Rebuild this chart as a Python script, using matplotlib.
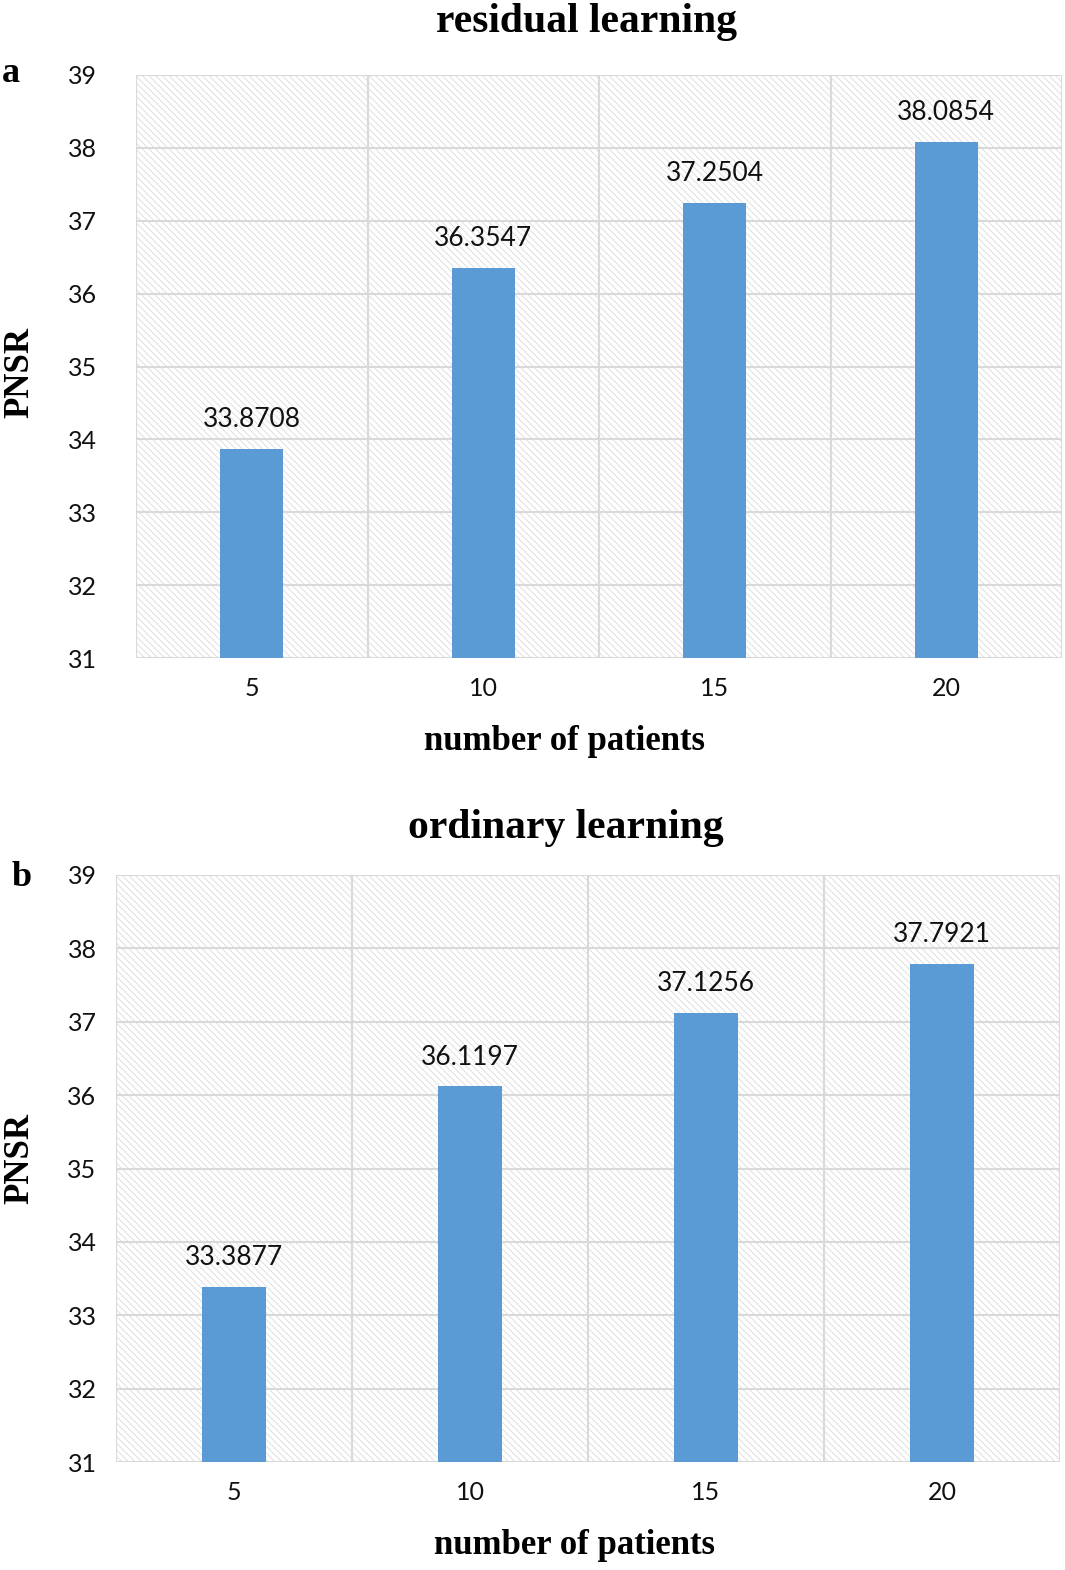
import numpy as np
import matplotlib
matplotlib.use("Agg")
import matplotlib.pyplot as plt
from matplotlib.patches import Rectangle

patients = ["5", "10", "15", "20"]
residual_psnr = [33.8708, 36.3547, 37.2504, 38.0854]
ordinary_psnr = [33.3877, 36.1197, 37.1256, 37.7921]
yticks = [31, 32, 33, 34, 35, 36, 37, 38, 39]

W, H = 1065, 1570
BAR = "#5b9bd5"
GRID = "#d9d9d9"
SERIF = "Liberation Serif"
SANS = "Lato"

plt.rcParams["hatch.linewidth"] = 0.6

fig = plt.figure(figsize=(W / 100, H / 100), dpi=100)


def px(x, y):
    return x / W, 1 - y / H


def panel(rect, values, ytick_pad):
    ax = fig.add_axes(rect)
    x = np.arange(len(patients))
    ax.set_xlim(-0.5, len(patients) - 0.5)
    ax.set_ylim(yticks[0], yticks[-1])
    # hatched background
    ax.add_patch(Rectangle((0, 0), 1, 1, transform=ax.transAxes, fill=False,
                           hatch="\\\\\\\\\\", edgecolor="#dadada", lw=0, zorder=0))
    for yv in yticks:
        ax.axhline(yv, color=GRID, lw=1.5, zorder=1)
    for xb in np.arange(-0.5, len(patients), 1.0):
        ax.axvline(xb, color=GRID, lw=1.5, zorder=1)
    ax.bar(x, values, width=0.27, color=BAR, zorder=2, bottom=0)
    for xi, v in zip(x, values):
        ax.annotate(f"{v:.4f}", (xi, v), xytext=(0, 12), textcoords="offset points",
                    ha="center", va="bottom", fontsize=19, family=SANS, color="#111111")
    ax.set_xticks(x, patients)
    ax.set_yticks(yticks)
    ax.tick_params(length=0, labelsize=18, colors="#111111")
    ax.tick_params(axis="y", pad=ytick_pad)
    ax.tick_params(axis="x", pad=14)
    for lab in ax.get_xticklabels() + ax.get_yticklabels():
        lab.set_family(SANS)
    for s in ax.spines.values():
        s.set_visible(False)
    return ax


panel([136 / W, 1 - 658 / H, (1062 - 136) / W, (658 - 75) / H], residual_psnr, 28)
panel([116 / W, 1 - 1462 / H, (1060 - 116) / W, (1462 - 875) / H], ordinary_psnr, 14)

tkw = dict(family=SERIF, fontweight="bold", ha="center", va="center")
fig.text(*px(586, 22), "residual learning", fontsize=30, **tkw)
fig.text(*px(564, 741), "number of patients", fontsize=25, **tkw)
fig.text(*px(20, 372), "PNSR", fontsize=25, rotation=90, **tkw)
fig.text(*px(11, 73), "a", fontsize=26, **tkw)

fig.text(*px(566, 828), "ordinary learning", fontsize=30, **tkw)
fig.text(*px(574, 1546), "number of patients", fontsize=25, **tkw)
fig.text(*px(20, 1158), "PNSR", fontsize=25, rotation=90, **tkw)
fig.text(*px(22, 878), "b", fontsize=26, **tkw)

fig.savefig("out.png", dpi=100)
